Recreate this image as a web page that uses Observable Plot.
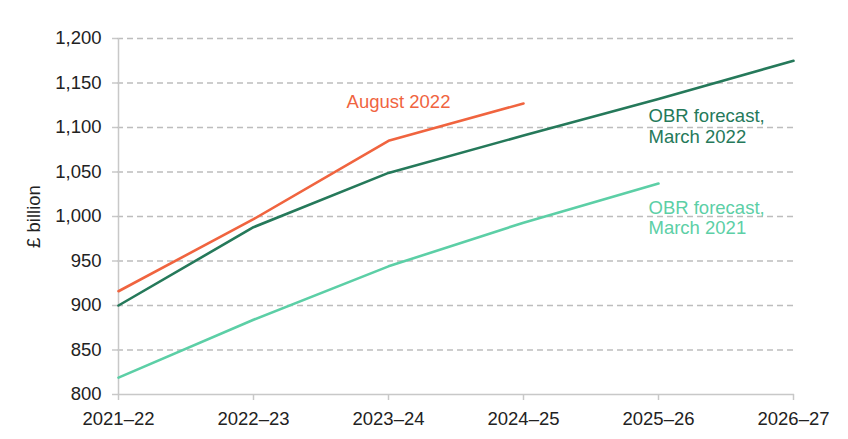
<!DOCTYPE html>
<html><head><meta charset="utf-8">
<script src="https://cdn.jsdelivr.net/npm/d3@7"></script>
<script src="https://cdn.jsdelivr.net/npm/@observablehq/plot@0.6"></script>
<style>body{margin:0;background:#fff}</style>
</head><body><div id="chart"></div>
<script>
const years = ["2021–22","2022–23","2023–24","2024–25","2025–26","2026–27"];
const august2022 = [916, 997, 1085, 1127];
const march2022 = [900, 988, 1049, 1091, 1132, 1175];
const march2021 = [819, 884, 944, 993, 1037];
const yTicks = [800, 850, 900, 950, 1000, 1050, 1100, 1150, 1200];
const seriesNames = ["August 2022", "OBR forecast,\nMarch 2022", "OBR forecast,\nMarch 2021"];
const seriesColors = ["#f0643f", "#25795a", "#5ccfa6"];
const labelYear = ["2023–24", "2025–26", "2025–26"];
const labelValue = [1129, 1102, 999];

const seriesValues = [august2022, march2022, march2021];
const rows = seriesValues.flatMap((vals, i) => vals.map((v, j) => ({series: seriesNames[i], year: years[j], value: v})));
const labels = seriesNames.map((s, i) => ({series: s, year: labelYear[i], value: labelValue[i]}));

const fmt = d3.format(",");
const plot = Plot.plot({
  width: 848,
  height: 439,
  marginLeft: 117,
  marginRight: 54,
  marginTop: 38,
  marginBottom: 45,
  style: {fontFamily: "'Liberation Sans', Arial, sans-serif", fontSize: "18.5px", color: "#222", background: "#fff"},
  x: {type: "point", domain: years, padding: 0},
  y: {domain: [800, 1200]},
  color: {domain: seriesNames, range: seriesColors},
  marks: [
    Plot.ruleY(yTicks.filter(d => d > 800), {stroke: "#bdbdbd", strokeWidth: 1.5, strokeDasharray: "6,4"}),
    Plot.axisY({ticks: yTicks, tickFormat: fmt, tickSize: 5, tickPadding: 11, stroke: "#c8c8c8", strokeWidth: 1.5, label: "£ billion", labelAnchor: "center", labelArrow: "none", labelOffset: 91, fill: "#222"}),
    Plot.axisX({tickSize: 6, tickPadding: 11, stroke: "#c8c8c8", strokeWidth: 1.5, label: null, fill: "#222"}),
    Plot.ruleX([years[0]], {stroke: "#c8c8c8", strokeWidth: 1.5}),
    Plot.ruleY([800], {stroke: "#c8c8c8", strokeWidth: 1.5}),
    Plot.lineY(rows, {x: "year", y: "value", z: "series", stroke: "series", strokeWidth: 2.6}),
    Plot.text(labels.slice(0, 1), {x: "year", y: "value", text: "series", fill: "series", dx: 10, textAnchor: "middle", fontSize: 18.5}),
    Plot.text(labels.slice(1), {x: "year", y: "value", text: "series", fill: "series", dx: -10, textAnchor: "start", fontSize: 18.5, lineHeight: 1.12})
  ]
});
document.getElementById("chart").appendChild(plot);
</script>
</body></html>
